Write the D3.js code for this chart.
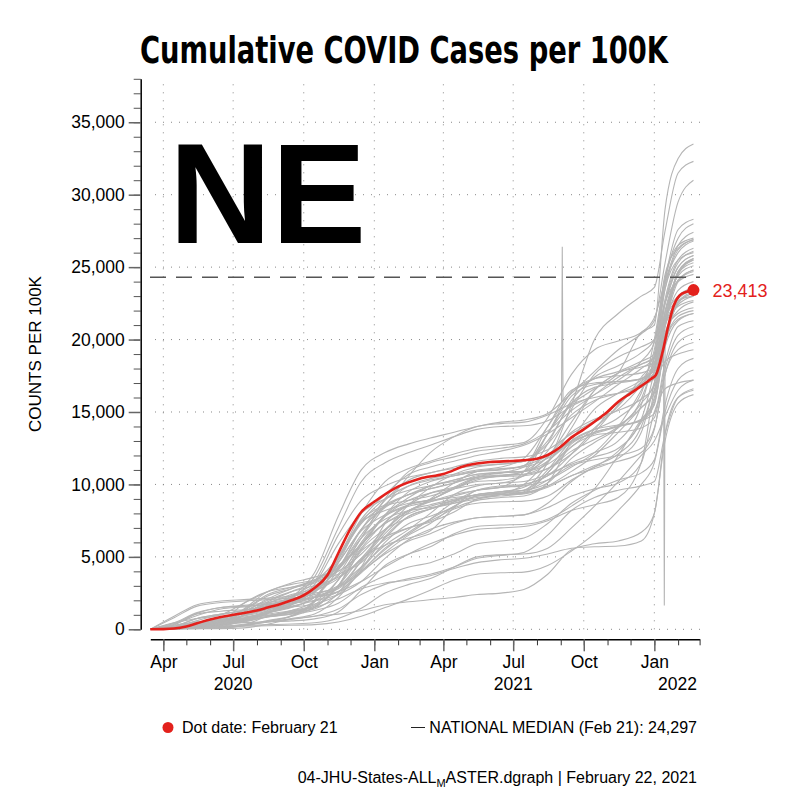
<!DOCTYPE html>
<html>
<head>
<meta charset="utf-8">
<title>Cumulative COVID Cases per 100K</title>
<script src="https://d3js.org/d3.v7.min.js"></script>
<style>
  body { margin: 0; background: #fff; }
  svg text { font-family: "Liberation Sans", Arial, Helvetica, sans-serif; }
</style>
</head>
<body>
<div id="chart"></div>
<script>
// ---- data (values are cases per 100K, in thousands) ----
var stateDates = ["2020-03-15", "2020-04-15", "2020-05-15", "2020-06-15", "2020-07-15", "2020-08-15",
                  "2020-09-15", "2020-10-15", "2020-11-15", "2020-12-15", "2021-01-15", "2021-02-15",
                  "2021-03-15", "2021-04-15", "2021-05-15", "2021-06-15", "2021-07-15", "2021-08-15",
                  "2021-09-15", "2021-10-15", "2021-11-15", "2021-12-15", "2022-01-01", "2022-01-15",
                  "2022-02-01", "2022-02-21"];

// one row per state / territory (gray lines)
var stateValues = [
  [0, 0.9, 1.7, 1.95, 2.05, 2.15, 2.3, 2.5, 2.9, 4.0, 5.6, 6.6, 7.6, 8.8, 9.6, 9.9, 10.0, 10.6, 11.5, 12.2, 13.0, 15.5, 19.0, 23.5, 25.5, 26.0],
  [0, 0.8, 1.6, 1.85, 1.95, 2.05, 2.15, 2.4, 3.0, 4.3, 5.8, 6.9, 8.0, 9.3, 9.9, 10.1, 10.2, 10.7, 11.4, 11.9, 12.5, 14.5, 17.8, 21.5, 23.0, 23.6],
  [0, 0.45, 1.15, 1.5, 1.6, 1.7, 1.8, 2.0, 2.6, 3.9, 5.3, 6.5, 7.3, 8.5, 9.2, 9.4, 9.45, 9.9, 10.6, 11.3, 12.1, 14.0, 17.0, 21.0, 22.6, 23.2],
  [0, 0.4, 1.05, 1.25, 1.35, 1.45, 1.55, 1.75, 2.4, 4.0, 5.5, 6.7, 7.6, 8.5, 9.2, 9.3, 9.35, 9.8, 10.6, 11.1, 11.8, 13.6, 17.0, 20.5, 21.8, 22.2],
  [0, 0.3, 1.1, 1.5, 1.65, 1.85, 2.1, 2.6, 3.8, 6.3, 8.5, 10.6, 12.2, 13.3, 14.0, 14.2, 14.3, 14.8, 15.6, 16.6, 17.7, 20.5, 21.0, 29.0, 32.5, 33.5],
  [0, 0.35, 0.95, 1.4, 1.55, 1.75, 2.0, 2.2, 2.6, 3.3, 4.3, 5.2, 5.9, 6.5, 6.9, 7.0, 7.1, 7.5, 8.2, 8.6, 9.1, 11.5, 16.5, 18.5, 19.0, 19.3],
  [0, 0.45, 0.75, 1.0, 1.8, 2.6, 3.2, 3.6, 4.2, 5.9, 7.3, 8.2, 8.8, 9.3, 9.6, 9.8, 10.9, 13.5, 15.5, 16.0, 16.3, 16.7, 17.8, 21.8, 24.5, 25.5],
  [0, 0.05, 0.25, 0.4, 0.6, 1.1, 2.2, 3.9, 7.8, 11.0, 12.2, 12.8, 13.2, 13.6, 14.0, 14.3, 14.45, 14.9, 16.3, 17.8, 19.3, 20.4, 21.3, 25.3, 29.5, 31.0],
  [0, 0.15, 0.45, 0.7, 0.85, 1.2, 2.1, 3.6, 7.0, 10.2, 11.5, 12.2, 12.7, 13.3, 13.8, 14.0, 14.05, 14.4, 15.4, 16.2, 17.2, 18.5, 19.8, 23.8, 26.0, 26.8],
  [0, 0.15, 0.15, 0.2, 0.22, 0.25, 0.28, 0.32, 0.5, 0.9, 1.5, 2.1, 2.7, 3.4, 3.8, 3.9, 3.95, 4.4, 5.4, 6.6, 8.2, 10.0, 11.5, 15.0, 17.2, 17.9],
  [0, 0.04, 0.05, 0.05, 0.1, 0.35, 0.7, 0.9, 1.05, 1.3, 1.7, 1.9, 2.05, 2.2, 2.4, 2.5, 2.75, 3.8, 5.5, 5.9, 6.1, 6.7, 8.0, 13.5, 16.0, 16.5],
  [0, 0.06, 0.12, 0.2, 0.27, 0.32, 0.37, 0.45, 0.75, 1.45, 2.5, 3.1, 3.5, 4.3, 5.0, 5.15, 5.2, 5.6, 7.0, 8.5, 10.2, 12.0, 13.0, 14.7, 16.5, 17.2],
  [0, 0.04, 0.08, 0.14, 0.3, 0.5, 0.7, 0.9, 1.4, 2.4, 3.1, 3.5, 3.8, 4.3, 4.9, 5.1, 5.3, 6.5, 8.2, 9.1, 9.6, 9.9, 10.2, 13.5, 16.0, 16.6],
  [0, 0.15, 0.25, 0.35, 0.6, 0.85, 1.05, 1.3, 1.8, 2.9, 3.7, 4.3, 4.6, 5.2, 5.9, 6.1, 6.3, 7.3, 8.7, 9.6, 10.3, 10.8, 11.7, 15.5, 18.0, 18.7],
  [0, 0.08, 0.25, 0.39, 0.46, 0.52, 0.58, 0.72, 1.2, 2.7, 4.4, 5.2, 5.7, 6.6, 7.1, 7.2, 7.25, 7.6, 8.5, 9.7, 12.0, 14.5, 15.8, 19.5, 21.3, 21.8],
  [0, 0.03, 0.07, 0.1, 0.3, 0.9, 1.2, 1.5, 2.1, 2.8, 3.2, 3.4, 3.7, 4.2, 4.6, 4.8, 4.9, 5.2, 5.6, 5.7, 5.75, 6.1, 8.0, 13.0, 15.6, 16.2],
  [0, 0.04, 0.06, 0.1, 0.25, 0.6, 0.9, 1.5, 3.0, 5.5, 6.9, 7.7, 8.3, 8.9, 9.3, 9.5, 9.8, 11.5, 15.5, 20.0, 21.8, 23.0, 23.6, 27.5, 31.5, 32.3],
  [0, 0.1, 0.25, 0.5, 1.1, 1.9, 2.6, 3.3, 5.0, 8.0, 10.2, 11.1, 11.6, 12.1, 12.5, 12.7, 12.9, 14.6, 17.6, 19.3, 19.9, 20.5, 21.5, 24.0, 26.5, 27.4],
  [0, 0.05, 0.1, 0.2, 0.35, 0.55, 0.9, 1.9, 4.8, 7.3, 8.5, 8.9, 9.2, 9.7, 10.3, 10.6, 10.9, 12.3, 15.2, 17.6, 18.8, 19.5, 20.0, 22.5, 25.0, 25.8],
  [0, 0.1, 0.4, 0.75, 1.1, 1.5, 2.3, 3.3, 6.5, 8.9, 9.9, 10.5, 10.8, 11.2, 11.6, 11.8, 11.9, 12.4, 13.5, 14.4, 15.6, 16.8, 17.3, 20.0, 22.8, 23.4],
  [0, 0.06, 0.2, 0.4, 0.65, 1.15, 1.7, 3.1, 5.9, 8.0, 9.0, 9.6, 9.9, 10.3, 10.7, 10.85, 10.9, 11.4, 12.6, 13.9, 15.4, 17.4, 18.7, 22.8, 25.5, 26.3],
  [0, 0.08, 0.22, 0.45, 0.95, 1.4, 1.8, 2.8, 5.0, 7.6, 9.3, 10.7, 11.2, 11.6, 12.0, 12.3, 12.7, 13.5, 14.6, 15.7, 16.9, 18.0, 18.8, 24.0, 27.0, 28.0],
  [0, 0.2, 0.75, 1.05, 1.3, 1.65, 2.1, 2.7, 4.6, 6.8, 7.9, 8.6, 8.95, 9.7, 10.4, 10.55, 10.6, 11.1, 12.3, 13.1, 14.0, 15.9, 18.7, 22.6, 24.0, 24.5],
  [0, 0.1, 0.38, 0.6, 0.8, 1.15, 1.5, 2.2, 4.1, 6.9, 8.4, 9.3, 9.7, 10.1, 10.6, 10.8, 10.9, 11.6, 13.2, 14.3, 15.2, 16.9, 18.3, 21.9, 24.1, 24.8],
  [0, 0.05, 0.24, 0.55, 0.75, 1.15, 1.55, 2.2, 4.6, 7.4, 8.2, 8.7, 8.95, 9.8, 10.5, 10.65, 10.7, 11.1, 12.1, 13.6, 15.5, 17.1, 18.0, 21.5, 24.1, 24.7],
  [0, 0.05, 0.25, 0.4, 0.7, 1.2, 1.7, 2.5, 4.9, 7.4, 9.0, 9.9, 10.3, 10.6, 10.9, 11.05, 11.3, 12.0, 13.6, 14.5, 15.1, 15.9, 16.8, 20.8, 24.6, 25.6],
  [0, 0.03, 0.13, 0.25, 0.6, 1.2, 1.8, 2.6, 4.2, 6.9, 8.9, 10.3, 10.8, 11.1, 11.3, 11.4, 11.6, 12.8, 14.8, 15.8, 16.3, 16.9, 17.5, 21.0, 24.6, 25.3],
  [0, 0.05, 0.15, 0.4, 0.95, 1.6, 2.2, 3.0, 4.3, 6.5, 8.6, 9.9, 10.4, 10.7, 11.0, 11.2, 11.8, 14.0, 16.3, 17.3, 17.8, 18.5, 19.0, 23.5, 26.2, 26.9],
  [0, 0.07, 0.19, 0.5, 1.8, 2.6, 2.9, 3.2, 4.1, 6.3, 9.0, 10.9, 11.5, 11.9, 12.3, 12.5, 12.8, 13.7, 15.1, 16.2, 17.4, 18.3, 18.8, 21.5, 24.7, 25.5],
  [0, 0.1, 0.22, 0.4, 1.4, 2.6, 3.1, 3.4, 4.0, 5.2, 6.9, 8.2, 8.9, 9.7, 10.5, 10.8, 11.2, 14.0, 16.5, 17.0, 17.1, 17.3, 19.3, 24.5, 26.3, 26.9],
  [0, 0.08, 0.38, 0.7, 1.35, 2.4, 2.9, 3.4, 4.4, 5.9, 7.9, 9.1, 9.9, 10.2, 10.5, 10.6, 10.9, 13.5, 16.4, 17.3, 17.5, 17.7, 18.1, 21.5, 24.7, 25.6],
  [0, 0.06, 0.25, 0.55, 1.3, 2.3, 2.8, 3.4, 4.3, 5.8, 7.9, 9.5, 10.2, 10.6, 10.9, 11.0, 11.3, 13.5, 16.1, 16.9, 17.1, 17.3, 18.4, 22.5, 25.0, 25.8],
  [0, 0.12, 0.35, 0.55, 1.2, 2.1, 2.8, 3.3, 3.8, 4.6, 6.3, 7.8, 8.3, 8.8, 9.2, 9.4, 9.6, 11.0, 13.0, 13.8, 14.1, 14.4, 15.5, 19.8, 21.6, 22.0],
  [0, 0.04, 0.18, 0.4, 1.2, 2.0, 2.6, 3.0, 3.6, 4.8, 6.8, 8.6, 9.8, 10.7, 11.2, 11.4, 11.6, 13.0, 15.6, 16.7, 17.0, 17.3, 18.0, 22.5, 25.3, 26.1],
  [0, 0.06, 0.16, 0.3, 1.0, 1.8, 2.3, 2.7, 3.5, 4.9, 6.8, 8.2, 8.6, 9.0, 9.3, 9.5, 9.6, 10.8, 12.6, 13.4, 13.6, 13.9, 14.6, 18.0, 20.3, 20.9],
  [0, 0.1, 0.22, 0.4, 1.0, 1.8, 2.4, 2.8, 3.7, 5.8, 7.8, 8.9, 9.4, 9.7, 10.0, 10.1, 10.6, 11.9, 13.0, 13.5, 14.0, 14.4, 14.9, 18.4, 20.9, 21.3],
  [0, 0.15, 0.38, 0.53, 0.67, 0.88, 1.08, 1.5, 3.0, 5.4, 6.4, 7.0, 7.4, 8.1, 9.0, 9.3, 9.4, 9.9, 10.9, 12.0, 13.6, 15.3, 16.3, 20.2, 22.4, 23.0],
  [0, 0.08, 0.18, 0.3, 0.55, 1.1, 1.7, 2.6, 4.2, 6.3, 7.6, 8.2, 8.4, 8.7, 9.0, 9.3, 10.0, 11.6, 12.9, 13.6, 14.1, 15.3, 16.5, 20.3, 22.0, 22.6],
  [0, 0.04, 0.05, 0.08, 0.25, 0.55, 0.95, 2.0, 4.8, 7.5, 8.6, 9.3, 9.7, 10.1, 10.5, 10.6, 10.7, 11.5, 13.9, 16.5, 17.7, 18.1, 18.4, 21.2, 24.0, 24.8],
  [0, 0.08, 0.15, 0.2, 0.65, 1.3, 1.9, 2.6, 4.6, 6.9, 8.5, 9.3, 9.9, 10.3, 10.7, 10.8, 10.9, 11.9, 14.3, 16.5, 17.7, 18.3, 18.7, 21.3, 23.4, 24.0],
  [0, 0.05, 0.18, 0.3, 0.5, 0.9, 1.3, 1.9, 3.4, 5.6, 7.4, 8.6, 9.4, 9.8, 10.2, 10.3, 10.6, 12.8, 15.8, 17.4, 18.2, 19.1, 20.0, 24.2, 27.6, 28.3],
  [0, 0.05, 0.09, 0.14, 0.28, 0.5, 0.75, 1.05, 2.2, 4.1, 6.0, 7.3, 7.8, 8.4, 8.9, 9.1, 9.2, 10.1, 13.0, 15.2, 16.3, 17.2, 17.9, 22.0, 24.4, 25.1],
  [0, 0.06, 0.27, 0.48, 0.7, 1.05, 1.3, 1.7, 3.4, 6.0, 7.8, 8.5, 8.8, 9.2, 9.6, 9.8, 10.0, 10.6, 12.1, 13.8, 15.7, 17.0, 17.7, 20.3, 22.5, 23.2],
  [0, 0.05, 0.18, 0.45, 0.95, 1.35, 1.75, 2.2, 2.9, 4.2, 6.4, 7.8, 8.3, 8.7, 9.1, 9.2, 9.4, 10.8, 12.8, 13.6, 14.0, 14.5, 15.6, 19.6, 22.6, 23.3],
  [0, 0.07, 0.22, 0.35, 0.55, 0.85, 1.2, 1.6, 3.0, 5.8, 7.3, 8.0, 8.5, 8.9, 9.3, 9.5, 9.6, 10.1, 11.8, 12.9, 13.9, 15.6, 17.0, 21.4, 22.7, 23.0],
  [0, 0.15, 0.5, 0.62, 0.74, 0.95, 1.15, 1.4, 2.5, 4.7, 6.2, 7.0, 7.5, 8.3, 8.7, 8.8, 8.85, 9.2, 10.3, 11.2, 12.3, 14.3, 16.0, 19.8, 21.4, 21.8],
  [0, 0.28, 0.52, 0.63, 0.75, 0.97, 1.25, 1.6, 3.0, 4.9, 5.8, 6.3, 6.8, 8.4, 9.6, 9.8, 9.9, 10.3, 11.2, 12.2, 14.0, 16.5, 18.2, 21.0, 22.3, 22.7],
  [0, 0.07, 0.2, 0.4, 0.95, 1.6, 2.0, 2.2, 2.6, 4.3, 7.3, 8.6, 8.9, 9.1, 9.25, 9.3, 9.5, 10.3, 11.3, 11.7, 12.0, 12.5, 13.9, 17.6, 19.8, 20.4],
  [0, 0.15, 0.6, 1.0, 1.3, 1.6, 1.9, 2.2, 2.8, 4.0, 5.2, 6.1, 6.6, 7.3, 7.7, 7.8, 7.9, 8.4, 9.2, 9.7, 10.1, 11.5, 15.0, 16.6, 17.0, 17.2],
  [0, 0.09, 0.37, 0.65, 0.92, 1.25, 1.6, 1.95, 2.4, 3.3, 4.9, 6.2, 6.9, 7.4, 7.7, 7.8, 7.9, 8.7, 10.2, 11.2, 11.6, 12.2, 13.8, 17.6, 19.3, 19.8],
  [0, 0.2, 0.75, 1.05, 1.3, 1.6, 1.9, 2.3, 2.9, 4.7, 6.6, 8.1, 9.0, 10.1, 10.9, 11.1, 11.2, 11.8, 13.0, 13.8, 14.6, 16.3, 20.0, 24.3, 26.5, 27.0]
];

// one-day reporting glitches in two of the gray series
var spikeDates = ["2021-09-02", "2021-09-03", "2021-09-04"];
var spikeValues = [15.6, 26.4, 15.7];
var dipDates = ["2022-01-13", "2022-01-14", "2022-01-15"];
var dipValues = [19.0, 1.65, 19.5];

// Nebraska (red)
var neDates = ["2020-03-15", "2020-04-01", "2020-04-15", "2020-05-01", "2020-05-15", "2020-06-01", "2020-06-15",
               "2020-07-01", "2020-07-15", "2020-08-01", "2020-08-15", "2020-09-01", "2020-09-15", "2020-10-01",
               "2020-10-15", "2020-11-01", "2020-11-15", "2020-12-01", "2020-12-15", "2021-01-01", "2021-02-01",
               "2021-03-01", "2021-04-01", "2021-05-01", "2021-06-01", "2021-07-01", "2021-07-15", "2021-08-01",
               "2021-08-15", "2021-09-01", "2021-09-15", "2021-10-01", "2021-10-15", "2021-11-01", "2021-11-15",
               "2021-12-01", "2021-12-15", "2021-12-28", "2022-01-03", "2022-01-12", "2022-01-19", "2022-01-26",
               "2022-02-03", "2022-02-12", "2022-02-21"];
var neValues = [0, 0.01, 0.05, 0.2, 0.42, 0.68, 0.85,
                1.0, 1.12, 1.3, 1.5, 1.75, 2.0, 2.35,
                2.85, 3.75, 5.25, 6.95, 8.1, 8.8, 9.85,
                10.4, 10.72, 11.3, 11.55, 11.62, 11.67, 11.78,
                12.03, 12.6, 13.25, 13.8, 14.33, 15.02, 15.71,
                16.29, 16.8, 17.3, 17.55, 19.2, 20.9, 22.3,
                23.05, 23.3, 23.413];

var nationalMedian = 24.297;
var yTickValues = [0, 5, 10, 15, 20, 25, 30, 35];
var quarterTicks = ["2020-04-01", "2020-07-01", "2020-10-01", "2021-01-01",
                    "2021-04-01", "2021-07-01", "2021-10-01", "2022-01-01"];
var yearLabels = [2020, 2021, 2022];

// ---- drawing ----
var width = 800, height = 800;
var red = "#e3211c";
var parse = d3.timeParse("%Y-%m-%d");

var svg = d3.select("#chart").append("svg")
    .attr("width", width)
    .attr("height", height);

var x = d3.scaleTime()
    .domain([parse("2020-03-15"), parse("2022-03-01")])
    .range([150.3, 699.6]);

var y = d3.scaleLinear()
    .domain([0, 38])
    .range([629.3, 78.8]);

var fmt = d3.format(",");

// title
svg.append("text")
    .attr("x", 140)
    .attr("y", 62.5)
    .attr("textLength", 528)
    .attr("lengthAdjust", "spacingAndGlyphs")
    .style("font-family", "'Liberation Sans Narrow', 'DejaVu Sans Condensed', Arial, sans-serif")
    .style("font-weight", "bold")
    .style("font-size", "38px")
    .text("Cumulative COVID Cases per 100K");

// grid
var grid = svg.append("g")
    .attr("stroke", "#888")
    .attr("stroke-width", 1)
    .attr("stroke-dasharray", "1,7");

grid.selectAll("line.h")
    .data(yTickValues)
    .enter().append("line")
    .attr("class", "h")
    .attr("x1", 155).attr("x2", 700)
    .attr("y1", function(d) { return y(d); })
    .attr("y2", function(d) { return y(d); });

grid.selectAll("line.v")
    .data(quarterTicks)
    .enter().append("line")
    .attr("class", "v")
    .attr("x1", function(d) { return x(parse(d)); })
    .attr("x2", function(d) { return x(parse(d)); })
    .attr("y1", y(0)).attr("y2", y(38));

// big state label
svg.append("text")
    .attr("x", 169)
    .attr("y", 243.3)
    .style("font-weight", "bold")
    .style("font-size", "142px")
    .text("NE");

// lines
var line = d3.line()
    .x(function(d) { return x(d.date); })
    .y(function(d) { return y(d.value); })
    .curve(d3.curveMonotoneX);

function toPoints(dates, values) {
    return dates.map(function(d, i) { return { date: parse(d), value: values[i] }; });
}

var grayGroup = svg.append("g")
    .attr("fill", "none")
    .attr("stroke", "#b5b5b5")
    .attr("stroke-width", 1.1);

grayGroup.selectAll("path.state")
    .data(stateValues)
    .enter().append("path")
    .attr("class", "state")
    .attr("d", function(vals) { return line(toPoints(stateDates, vals)); });

var straight = d3.line()
    .x(function(d) { return x(d.date); })
    .y(function(d) { return y(d.value); });

grayGroup.append("path").attr("d", straight(toPoints(spikeDates, spikeValues)));
grayGroup.append("path").attr("d", straight(toPoints(dipDates, dipValues)));

// national median
svg.append("line")
    .attr("x1", 150).attr("x2", 700)
    .attr("y1", y(nationalMedian)).attr("y2", y(nationalMedian))
    .attr("stroke", "#555")
    .attr("stroke-width", 1.5)
    .attr("stroke-dasharray", "16,10");

// Nebraska
var nePoints = toPoints(neDates, neValues);
svg.append("path")
    .attr("fill", "none")
    .attr("stroke", red)
    .attr("stroke-width", 2.6)
    .attr("d", line(nePoints));

var last = nePoints[nePoints.length - 1];
svg.append("circle")
    .attr("cx", x(last.date))
    .attr("cy", y(last.value))
    .attr("r", 6)
    .attr("fill", red);

svg.append("text")
    .attr("x", x(last.date) + 19)
    .attr("y", y(last.value))
    .attr("dy", "0.36em")
    .attr("fill", red)
    .style("font-size", "18px")
    .text(fmt(Math.round(last.value * 1000)));

// y axis
var yMinor = svg.append("g")
    .attr("transform", "translate(140.7,0)")
    .call(d3.axisLeft(y).tickValues(d3.range(0, 39, 1)).tickSize(7).tickFormat(""));
yMinor.select(".domain").remove();
yMinor.selectAll("line").attr("stroke", "#555");

var yAxis = svg.append("g")
    .attr("transform", "translate(140.7,0)")
    .call(d3.axisLeft(y)
        .tickValues(yTickValues)
        .tickSize(12)
        .tickSizeOuter(0)
        .tickPadding(4)
        .tickFormat(function(d) { return fmt(d * 1000); }));
yAxis.select(".domain").attr("stroke", "#000").attr("stroke-width", 1.5);
yAxis.selectAll("line").attr("stroke", "#666").attr("stroke-width", 1.5);
yAxis.selectAll("text").style("font-size", "17.5px").attr("fill", "#000")
    .style("font-family", "'Liberation Sans', Arial, sans-serif");

svg.append("text")
    .attr("transform", "translate(41,354) rotate(-90)")
    .attr("text-anchor", "middle")
    .style("font-size", "17px")
    .text("COUNTS PER 100K");

// x axis
var xMinor = svg.append("g")
    .attr("transform", "translate(0,639.3)")
    .call(d3.axisBottom(x)
        .tickValues(d3.timeMonth.range(parse("2020-04-01"), parse("2022-03-02")))
        .tickSize(6)
        .tickSizeOuter(0)
        .tickFormat(""));
xMinor.select(".domain").attr("stroke", "#000").attr("stroke-width", 1.5);
xMinor.selectAll("line").attr("stroke", "#333");

var xAxis = svg.append("g")
    .attr("transform", "translate(0,639.3)")
    .call(d3.axisBottom(x)
        .tickValues(quarterTicks.map(parse))
        .tickSize(12)
        .tickPadding(4)
        .tickFormat(d3.timeFormat("%b")));
xAxis.select(".domain").remove();
xAxis.selectAll("line").attr("stroke", "#666").attr("stroke-width", 1.5);
xAxis.selectAll("text").style("font-size", "17.5px").attr("fill", "#000")
    .style("font-family", "'Liberation Sans', Arial, sans-serif");

svg.append("g").selectAll("text")
    .data(yearLabels)
    .enter().append("text")
    .attr("x", function(d) {
        var cx = x(new Date(d, 6, 1));
        return cx > 680 ? 697 : cx;
    })
    .attr("y", 690)
    .attr("text-anchor", function(d) { return x(new Date(d, 6, 1)) > 680 ? "end" : "middle"; })
    .style("font-size", "17.5px")
    .text(function(d) { return d; });

// legend
svg.append("circle")
    .attr("cx", 168).attr("cy", 727.5).attr("r", 5.5)
    .attr("fill", red);
svg.append("text")
    .attr("x", 182).attr("y", 733)
    .style("font-size", "16px")
    .text("Dot date: February 21");

svg.append("line")
    .attr("x1", 411).attr("x2", 425)
    .attr("y1", 727.5).attr("y2", 727.5)
    .attr("stroke", "#222").attr("stroke-width", 1);
svg.append("text")
    .attr("x", 697).attr("y", 733)
    .attr("text-anchor", "end")
    .style("font-size", "16px")
    .text("NATIONAL MEDIAN (Feb 21): " + fmt(Math.round(nationalMedian * 1000)));

// footer
var foot = svg.append("text")
    .attr("x", 697).attr("y", 783)
    .attr("text-anchor", "end")
    .style("font-size", "16px");
foot.append("tspan").text("04-JHU-States-ALL");
foot.append("tspan").attr("dy", 4).style("font-size", "11px").text("M");
foot.append("tspan").attr("dy", -4).text("ASTER.dgraph | February 22, 2021");
</script>
</body>
</html>
